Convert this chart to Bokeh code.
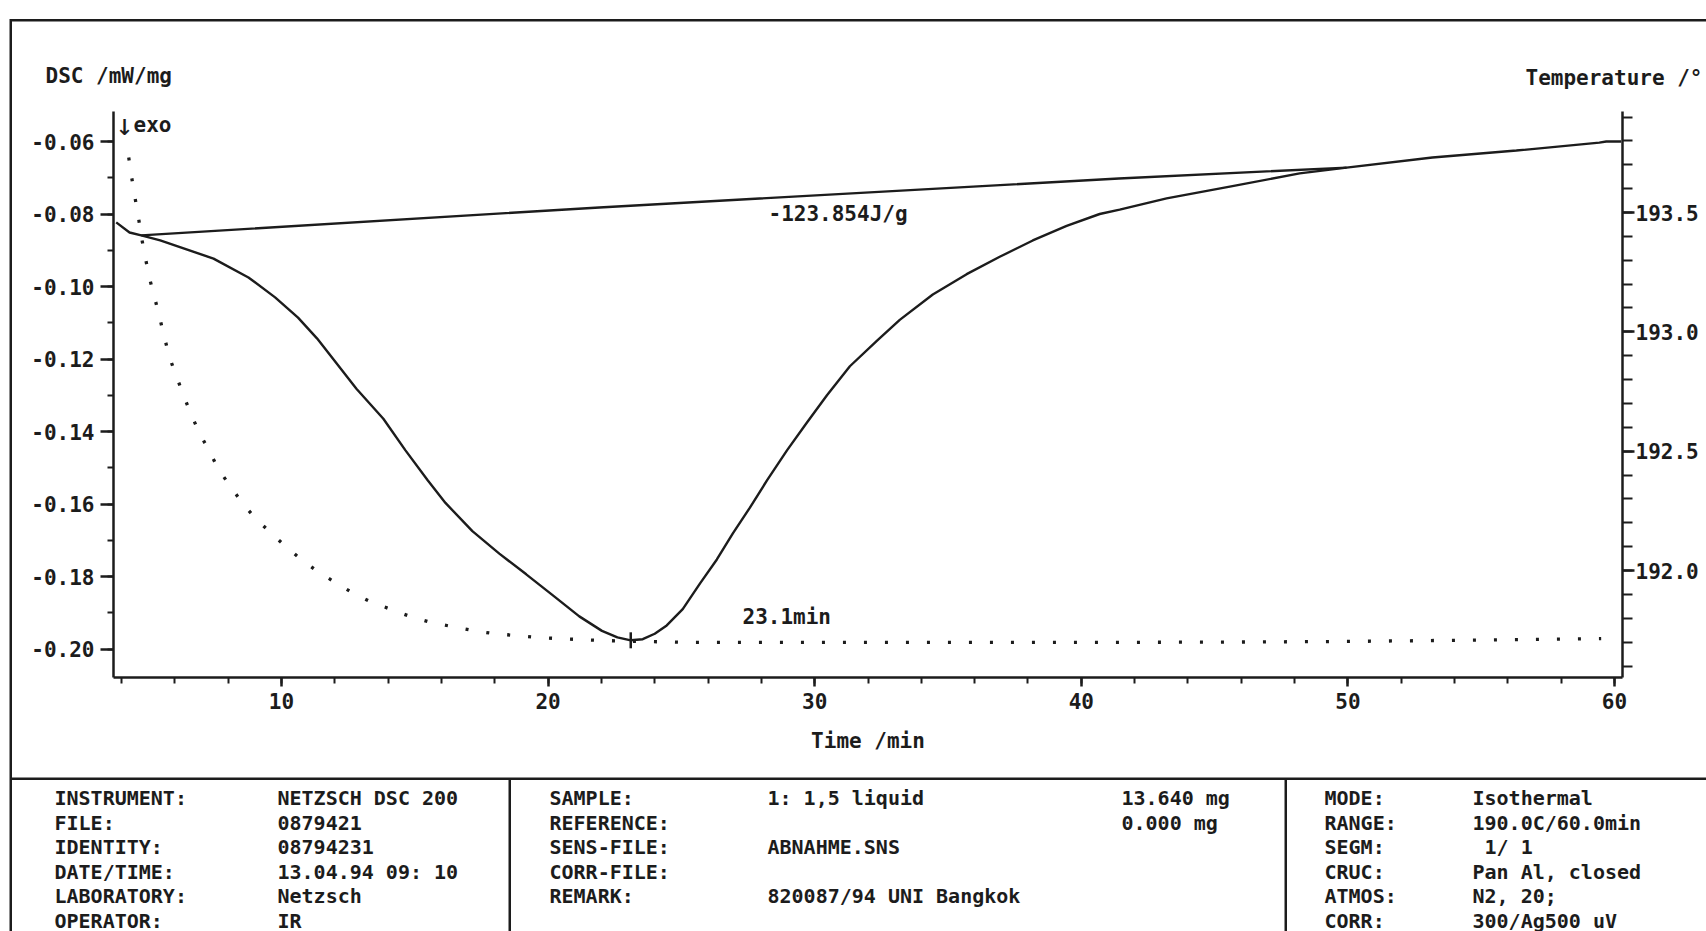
import math
from bokeh.plotting import figure
from bokeh.models import (Range1d, LinearAxis, SingleIntervalTicker, NumeralTickFormatter,
                          Label, BoxAnnotation)
from bokeh.embed import file_html
from bokeh.resources import INLINE

# ---------------- data ----------------
dsc_time = [3.80, 4.30, 4.74, 5.45, 7.45, 8.76, 9.76, 10.62, 11.33, 11.99, 12.81, 13.82, 14.65,
            15.49, 16.15, 17.16, 18.17, 19.18, 20.18, 21.17, 22.02, 22.6, 23.1, 23.55, 24.0,
            24.45, 25.05, 25.7, 26.33, 26.93, 27.57, 28.21, 28.96, 29.71, 30.46, 31.32, 32.33,
            33.19, 34.43, 35.70, 36.94, 38.18, 39.45, 40.69, 41.44, 43.2, 45.67, 48.19, 49.95,
            53.17, 56.32, 59.43, 59.69, 60.25]
dsc_value = [-0.0823, -0.0851, -0.0859, -0.0873, -0.0923, -0.0975, -0.1030, -0.1086, -0.1143,
             -0.1205, -0.1282, -0.1365, -0.1452, -0.1535, -0.1597, -0.1675, -0.1737, -0.1794,
             -0.1852, -0.1910, -0.1950, -0.1968, -0.1976, -0.1973, -0.1958, -0.1935, -0.1890,
             -0.1819, -0.1753, -0.1681, -0.1610, -0.1535, -0.1452, -0.1375, -0.1300, -0.1220,
             -0.1150, -0.1092, -0.1022, -0.0966, -0.0918, -0.0873, -0.0833, -0.0800, -0.0788,
             -0.0757, -0.0723, -0.0688, -0.0672, -0.0644, -0.0625, -0.0603, -0.0600, -0.0600]

baseline_time = [4.74, 21.92, 41.41, 49.95]
baseline_value = [-0.0859, -0.0782, -0.0702, -0.0672]

temp_time = [4.27, 4.38, 4.51, 4.64, 4.75, 4.90, 5.05, 5.24, 5.43, 5.61, 5.80, 6.06, 6.33, 6.61,
             6.93, 7.30, 7.64, 8.09, 8.54, 9.03, 9.59, 10.15, 10.75, 11.35, 12.02, 12.70, 13.41,
             14.12, 14.84, 15.62, 16.37, 17.16, 17.95, 18.77, 19.58, 20.36, 21.15, 21.96, 23.5,
             25.2, 30, 35, 40, 45, 50, 55, 59.5]
temp_value = [193.730, 193.647, 193.559, 193.475, 193.395, 193.307, 193.224, 193.144, 193.060,
              192.976, 192.893, 192.813, 192.733, 192.654, 192.574, 192.499, 192.423, 192.352,
              192.281, 192.218, 192.159, 192.101, 192.046, 191.996, 191.950, 191.904, 191.866,
              191.837, 191.807, 191.782, 191.766, 191.749, 191.736, 191.728, 191.720, 191.715,
              191.711, 191.707, 191.703, 191.699, 191.699, 191.699, 191.699, 191.700, 191.703,
              191.709, 191.715]

peak_time = [23.1]
peak_value = [-0.1976]
peak_label = "23.1min"
area_label = "-123.854J/g"

info_col1 = ["INSTRUMENT:", "FILE:", "IDENTITY:", "DATE/TIME:", "LABORATORY:", "OPERATOR:"]
info_col2 = ["NETZSCH DSC 200", "0879421", "08794231", "13.04.94 09: 10", "Netzsch", "IR"]
info_col3 = ["SAMPLE:", "REFERENCE:", "SENS-FILE:", "CORR-FILE:", "REMARK:", ""]
info_col4 = ["1: 1,5 liquid", "", "ABNAHME.SNS", "", "820087/94 UNI Bangkok", ""]
info_col5 = ["13.640 mg", "0.000 mg", "", "", "", ""]
info_col6 = ["MODE:", "RANGE:", "SEGM:", "CRUC:", "ATMOS:", "CORR:"]
info_col7 = ["Isothermal", "190.0C/60.0min", "\u00a01/ 1", "Pan Al, closed", "N2, 20;",
             "300/Ag500 uV"]

# axis extents (data units)
time_lo, time_hi = 3.6985, 60.300
dsc_lo, dsc_hi = -0.20786, -0.05172
temp_lo, temp_hi = 191.552, 193.9231

# ---------------- page geometry (canvas px) ----------------
W, H = 1706, 931
INK = "#1c1c1c"
FONT = "DejaVu Sans Mono"
# linear maps canvas px <-> data (the frame is the whole canvas; axes sit inside it)
X10, PX_MIN = 281.0, 26.66          # x px of t=10, px per minute
Y006, PX_DSC = 141.0, 3625.0        # y px of -0.06, px per mW/mg
Y1935, PX_K = 212.0, 238.7          # y px of 193.5, px per K


def tx(X):
    return 10 + (X - X10) / PX_MIN


def vy(Y):
    return -0.06 - (Y - Y006) / PX_DSC


def ty(Y):
    return 193.5 - (Y - Y1935) / PX_K


p = figure(width=W, height=H, output_backend="svg", toolbar_location=None, title=None,
           x_range=Range1d(tx(0), tx(W)), y_range=Range1d(vy(H), vy(0)), min_border=0,
           min_border_left=0, min_border_right=0, min_border_top=0, min_border_bottom=0)
p.extra_y_ranges = {"temp": Range1d(ty(H), ty(0))}
p.grid.visible = False
p.outline_line_color = None
p.background_fill_color = "white"
p.border_fill_color = "white"


def style_axis(ax):
    ax.axis_line_width = 2.5
    ax.axis_line_color = INK
    ax.major_tick_line_color = INK
    ax.minor_tick_line_color = INK
    ax.major_tick_line_width = 2.5
    ax.minor_tick_line_width = 2
    ax.major_tick_in = 0
    ax.minor_tick_in = 0
    ax.major_label_text_font = FONT
    ax.major_label_text_font_size = "21px"
    ax.major_label_text_font_style = "bold"
    ax.major_label_text_color = INK


xa = p.xaxis[0]
style_axis(xa)
xa.fixed_location = dsc_lo
xa.bounds = (time_lo, time_hi)
xa.ticker = SingleIntervalTicker(interval=10, num_minor_ticks=5)
xa.major_tick_out = 9
xa.minor_tick_out = 6
xa.major_label_standoff = 7
xa.axis_label = "Time /min"
xa.axis_label_text_font = FONT
xa.axis_label_text_font_size = "21px"
xa.axis_label_text_font_style = "bold"
xa.axis_label_text_color = INK
xa.axis_label_standoff = 16

ya = p.yaxis[0]
style_axis(ya)
ya.fixed_location = time_lo
ya.bounds = (dsc_lo, dsc_hi)
ya.ticker = SingleIntervalTicker(interval=0.02, num_minor_ticks=2)
ya.formatter = NumeralTickFormatter(format="0.00")
ya.major_tick_out = 13
ya.minor_tick_out = 6
ya.major_label_standoff = 6

ra = LinearAxis(y_range_name="temp")
style_axis(ra)
ra.fixed_location = time_hi
ra.bounds = (temp_lo, temp_hi)
ra.ticker = SingleIntervalTicker(interval=0.5, num_minor_ticks=5)
ra.formatter = NumeralTickFormatter(format="0.0")
ra.major_tick_out = 12
ra.minor_tick_out = 10
ra.major_label_standoff = 1
p.add_layout(ra, "right")

# ---------------- curves ----------------
p.line(baseline_time, baseline_value, line_color=INK, line_width=2.4)
p.line(dsc_time, dsc_value, line_color=INK, line_width=2.4)
p.line(temp_time, temp_value, y_range_name="temp", line_color=INK, line_width=3.3,
       line_dash="3 18")
p.scatter(peak_time, peak_value, marker="dash", angle=math.pi / 2, size=16,
          line_color=INK, line_width=2.5)


# ---------------- texts & page decorations ----------------
def put(text, X, Y, size="21px", align="left", style="bold"):
    p.add_layout(Label(x=X, y=H - Y, x_units="screen", y_units="screen", text=text,
                       text_font=FONT, text_font_size=size, text_font_style=style,
                       text_color=INK, text_baseline="middle", text_align=align))


def rule(x0, x1, y0, y1):
    p.add_layout(BoxAnnotation(left=x0, right=x1, top=H - y0, bottom=H - y1,
                               left_units="screen", right_units="screen",
                               top_units="screen", bottom_units="screen",
                               fill_color=INK, fill_alpha=1, line_color=None))


put("DSC /mW/mg", 45, 75)
put("Temperature /\u00b0", 1525, 77)
put("\u2193", 115, 124, size="30px", style="normal")
put("exo", 133, 124)
put(area_label, 768, 213)
put(peak_label, 742, 616)

rule(10, W + 10, 18.5, 21)        # page frame, top
rule(9, 11.5, 18.5, H + 10)       # page frame, left
rule(10, W + 10, 777, 779.5)      # separator above the table
rule(508, 510.5, 778, H + 10)     # table divider 1
rule(1284, 1286.5, 778, H + 10)   # table divider 2

cols_x = [54, 277, 549, 767, 1121, 1324, 1472]
cols = [info_col1, info_col2, info_col3, info_col4, info_col5, info_col6, info_col7]
for cx, col in zip(cols_x, cols):
    for i, t in enumerate(col):
        if t:
            put(t, cx, 797.5 + 24.5 * i, size="20px")

open("out.html", "w").write(file_html(p, INLINE))
